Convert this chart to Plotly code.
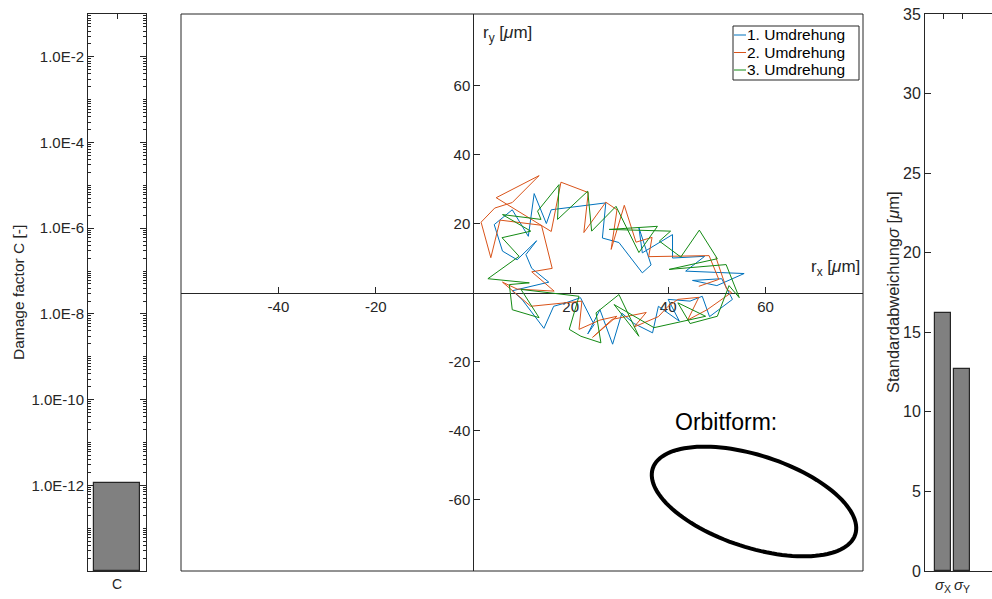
import numpy as np
import plotly.graph_objects as go

W, H = 992, 599
FONT = "Liberation Sans, Arial, Helvetica, sans-serif"
AX = "#262626"

# ---- data -------------------------------------------------------------
damage_cat = ["C"]
damage_val = [1.1e-12]

sigma_cat = ["<i>σ</i><sub>X</sub>", "<i>σ</i><sub>Y</sub>"]
sigma_val = [16.2, 12.7]

rev_names = ["1. Umdrehung", "2. Umdrehung", "3. Umdrehung"]
rev_colors = ["#0072BD", "#D95319", "#138A13"]

rev1_x = [50.0, 55.6, 43.6, 47.5, 40.9, 40.9, 34.7, 34.0, 36.5, 34.7, 29.9, 26.5, 27.2,
          16.0, 15.0, 12.5, 11.3, 8.0, 4.3, 6.0, 9.0, 13.0, 10.8, 12.0, 15.5, 13.5, 8.0,
          10.0, 14.5, 16.5, 19.0, 22.0, 24.8, 23.5, 26.0, 28.6, 30.5, 33.0, 36.8, 38.0,
          42.3, 40.0, 44.5, 47.0, 48.5, 53.2, 51.0, 45.0, 50.0]
rev1_y = [2.0, 5.5, 6.2, 10.5, 10.0, 16.8, 11.5, 18.8, 8.0, 5.7, 14.5, 15.8, 26.0,
          24.0, 20.0, 28.7, 16.3, 24.0, 19.7, 12.0, 9.5, 15.0, 11.0, 7.0, 3.0, 2.3, 0.5,
          -2.0, -10.4, -4.0, -3.0, -1.5, -9.3, -12.0, -5.0, -15.0, -6.0, -9.0, -11.7, -4.0,
          -8.3, -2.0, -2.5, -1.1, -7.0, -2.0, 4.0, 3.5, 2.0]

rev2_x = [46.3, 50.4, 48.4, 36.0, 36.7, 33.4, 31.0, 28.3, 29.5, 27.2, 22.7, 23.6, 18.0,
          16.0, 4.7, 13.5, 8.0, 4.4, 1.6, 3.6, 5.5, 14.0, 16.2, 12.0, 16.6, 9.0, 6.0,
          11.8, 22.3, 21.7, 26.0, 29.5, 24.5, 28.5, 35.5, 33.0, 38.0, 40.0, 42.0, 46.3,
          44.0, 48.0, 53.0, 52.0, 49.8]
rev2_y = [1.8, 3.8, 10.7, 10.4, 16.0, 14.6, 25.3, 12.5, 24.0, 26.2, 17.4, 29.0, 32.0,
          17.7, 27.5, 33.9, 26.1, 24.5, 20.4, 10.1, 21.0, 19.5, 7.0, 6.0, 0.4, 1.0, 3.0,
          -4.0, -2.5, -10.7, -8.0, -6.9, -13.0, -7.8, -5.8, -10.0, -7.0, -4.0, -2.0, -1.4,
          -8.0, -5.0, 0.0, 1.0, 10.2]

rev3_x = [54.6, 51.9, 40.2, 50.1, 46.4, 42.6, 38.2, 40.5, 27.9, 37.8, 34.0, 29.3, 24.3,
          23.5, 17.3, 17.6, 13.2, 13.9, 6.0, 11.8, 5.9, 9.4, 3.0, 11.5, 7.4, 8.0, 13.5,
          9.8, 21.7, 19.7, 22.1, 26.2, 25.2, 29.9, 34.0, 28.9, 37.1, 47.7, 42.0, 44.5,
          50.1, 52.5, 54.6]
rev3_y = [-1.5, 8.1, 6.7, 9.8, 18.1, 10.3, 14.9, 17.8, 18.3, 19.2, 11.6, 25.0, 17.8,
          29.4, 21.2, 31.3, 23.6, 21.2, 22.6, 17.8, 15.9, 10.5, 4.0, 2.8, 2.3, -5.0, -7.3,
          0.9, -1.1, -10.7, -12.7, -14.6, -5.9, -0.6, -12.7, -3.5, -10.2, -6.9, -3.0, -9.0,
          -6.9, 2.0, -1.5]

orbit_ticks_x = [-40, -20, 20, 40, 60]
orbit_ticks_y = [-60, -40, -20, 20, 40, 60]
damage_exp = [-12, -10, -8, -6, -4, -2]
sigma_ticks = [0, 5, 10, 15, 20, 25, 30, 35]

# ---- layout helpers (pixel -> paper) -----------------------------------
def fx(p):
    return p / W

def fy(p):
    return 1 - p / H

YDOM = [fy(571), fy(14)]
X2RANGE = [-60, 80]
Y2RANGE = [-80.8, 80.8]
X2DOM = [fx(181), fx(863)]

fig = go.Figure()

# left: damage factor bar (log scale)
fig.add_trace(go.Bar(x=[1], y=damage_val, width=0.8, base=1e-14,
                     marker=dict(color="#808080", line=dict(color=AX, width=1.2)),
                     xaxis="x", yaxis="y", showlegend=False))

# centre: orbit for three revolutions
for xs, ys, name, col in zip([rev1_x, rev2_x, rev3_x], [rev1_y, rev2_y, rev3_y],
                             rev_names, rev_colors):
    fig.add_trace(go.Scatter(x=xs, y=ys, mode="lines", name=name,
                             line=dict(color=col, width=1), showlegend=False,
                             xaxis="x2", yaxis="y2"))

# right: standard deviations
fig.add_trace(go.Bar(x=[1, 2], y=sigma_val, width=0.8,
                     marker=dict(color="#808080", line=dict(color=AX, width=1.2)),
                     xaxis="x3", yaxis="y3", showlegend=False))

left_font = dict(family=FONT, size=15, color=AX)
right_font = dict(family=FONT, size=16, color=AX)
mid_font = dict(family=FONT, size=15, color=AX)

minor_vals = [d * 10.0 ** k for k in range(-14, -1) for d in range(1, 10)
              if not (d == 1 and k in damage_exp)]

# origin-crossing axes of the centre panel
pos_x_axis = YDOM[0] + (0 - Y2RANGE[0]) / (Y2RANGE[1] - Y2RANGE[0]) * (YDOM[1] - YDOM[0])
pos_y_axis = X2DOM[0] + (0 - X2RANGE[0]) / (X2RANGE[1] - X2RANGE[0]) * (X2DOM[1] - X2DOM[0])

fig.update_layout(
    width=W, height=H,
    margin=dict(l=0, r=0, t=0, b=0, autoexpand=False),
    paper_bgcolor="white", plot_bgcolor="white",
    font=dict(family=FONT, size=14, color=AX),
    bargap=0, showlegend=False,
    xaxis=dict(domain=[fx(88), fx(146)], range=[0.5, 1.5], tickvals=[1],
               ticktext=damage_cat, ticks="inside", ticklen=5, tickcolor=AX,
               showline=True, linecolor=AX, linewidth=1, mirror="ticks",
               showgrid=False, zeroline=False, tickfont=dict(family=FONT, size=14, color=AX),
               anchor="y", layer="below traces", automargin=False),
    yaxis=dict(domain=YDOM, type="log", range=[-14, -1],
               tickvals=[10.0 ** e for e in damage_exp],
               ticktext=["1.0E%d" % e for e in damage_exp],
               ticks="inside", ticklen=6, tickcolor=AX,
               minor=dict(tickvals=minor_vals, ticks="inside", ticklen=3,
                          tickcolor=AX, showgrid=False),
               showline=True, linecolor=AX, linewidth=1, mirror="ticks",
               showgrid=False, zeroline=False, tickfont=left_font, anchor="x",
               layer="below traces", automargin=False),
    xaxis2=dict(domain=X2DOM, range=X2RANGE, tickvals=orbit_ticks_x,
                ticktext=[str(v) for v in orbit_ticks_x],
                ticks="inside", ticklen=6, tickcolor=AX,
                showline=True, linecolor=AX, linewidth=1,
                showgrid=False, zeroline=False, tickfont=mid_font,
                anchor="free", position=pos_x_axis, layer="below traces",
                automargin=False),
    yaxis2=dict(domain=YDOM, range=Y2RANGE, tickvals=orbit_ticks_y,
                ticktext=[str(v) for v in orbit_ticks_y],
                ticks="inside", ticklen=6, tickcolor=AX,
                showline=True, linecolor=AX, linewidth=1,
                showgrid=False, zeroline=False, tickfont=mid_font,
                anchor="free", position=pos_y_axis, layer="below traces",
                automargin=False),
    xaxis3=dict(domain=[fx(925), 1.0], range=[1 - 18 / 19, 2 + 30 / 19],
                tickvals=[1, 2], ticktext=sigma_cat,
                ticks="inside", ticklen=5, tickcolor=AX,
                showline=True, linecolor=AX, linewidth=1, mirror="ticks",
                showgrid=False, zeroline=False, tickfont=dict(family=FONT, size=15, color=AX),
                anchor="y3", layer="below traces", automargin=False),
    yaxis3=dict(domain=YDOM, range=[0, 35], tickvals=sigma_ticks,
                ticks="inside", ticklen=6, tickcolor=AX,
                showline=True, linecolor=AX, linewidth=1,
                showgrid=False, zeroline=False, tickfont=right_font, anchor="x3",
                automargin=False),
)

# frame around the centre panel
fig.add_shape(type="rect", xref="paper", yref="paper",
              x0=X2DOM[0], x1=X2DOM[1], y0=YDOM[0], y1=YDOM[1],
              line=dict(color=AX, width=1), layer="below")

# legend box for the three revolutions
LEG_L, LEG_R, LEG_T, LEG_B = 733, 859, 26, 80
LEG_ROWS = [35, 52.5, 70]
fig.add_shape(type="rect", xref="paper", yref="paper",
              x0=fx(LEG_L), x1=fx(LEG_R), y0=fy(LEG_B), y1=fy(LEG_T),
              line=dict(color=AX, width=1), fillcolor="white")
for name, col, row in zip(rev_names, rev_colors, LEG_ROWS):
    fig.add_shape(type="line", xref="paper", yref="paper",
                  x0=fx(LEG_L + 1), x1=fx(LEG_L + 13), y0=fy(row), y1=fy(row),
                  line=dict(color=col, width=1))
    fig.add_annotation(xref="paper", yref="paper", x=fx(LEG_L + 12), y=fy(row),
                       text=name, showarrow=False, xanchor="left", yanchor="middle",
                       font=dict(family=FONT, size=15.5, color="black"))

# orbit form sketch: tilted ellipse (pixel geometry)
cx, cy, a, b, th = 754.0, 501.5, 106.5, 46.0, np.deg2rad(18.1)
t = np.linspace(0, 2 * np.pi, 121)
ex = cx + a * np.cos(t) * np.cos(th) - b * np.sin(t) * np.sin(th)
ey = cy + a * np.cos(t) * np.sin(th) + b * np.sin(t) * np.cos(th)
path = "M " + " L ".join("%.5f,%.5f" % (fx(u), fy(v)) for u, v in zip(ex, ey)) + " Z"
fig.add_shape(type="path", xref="paper", yref="paper", path=path,
              line=dict(color="black", width=4))

annos = [
    dict(x=fx(726), y=fy(422), text="Orbitform:", font=dict(size=23, color="black")),
    dict(x=fx(835), y=fy(268), text="r<sub>x</sub> [<i>μ</i>m]", font=dict(size=17, color=AX)),
    dict(x=fx(507), y=fy(34), text="r<sub>y</sub> [<i>μ</i>m]", font=dict(size=17, color=AX)),
    dict(x=fx(18), y=fy(293), text="Damage factor C [-]", textangle=-90,
         font=dict(size=15.5, color=AX)),
    dict(x=fx(893), y=fy(292), text="Standardabweichung<i>σ</i> [<i>μ</i>m]", textangle=-90,
         font=dict(size=16.5, color=AX)),
]
for an in annos:
    fig.add_annotation(xref="paper", yref="paper", showarrow=False,
                       xanchor="center", yanchor="middle",
                       font_family=FONT, **{k: v for k, v in an.items()})

fig.write_html("out.html")
